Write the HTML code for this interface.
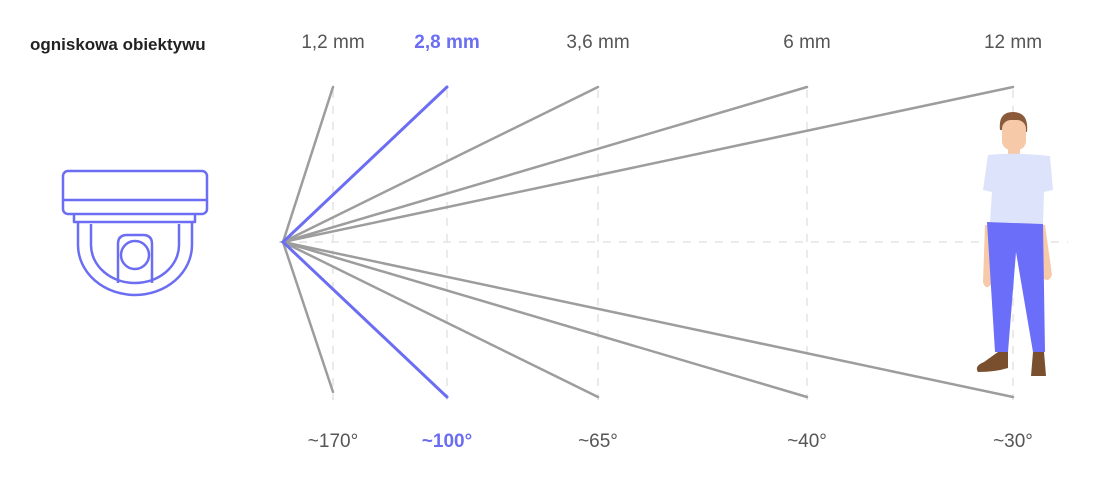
<!DOCTYPE html>
<html><head><meta charset="utf-8"><style>
html,body{margin:0;padding:0;background:#fff;}
svg{display:block;font-family:"Liberation Sans",sans-serif;}
</style></head><body>
<svg width="1100" height="489" viewBox="0 0 1100 489">
<g stroke="#e4e4e4" stroke-width="1.5" stroke-dasharray="8,8" fill="none">
<line x1="283" y1="242" x2="1068" y2="242"/>
<line x1="333" y1="90" x2="333" y2="400"/>
<line x1="447" y1="90" x2="447" y2="400"/>
<line x1="598" y1="90" x2="598" y2="400"/>
<line x1="807" y1="90" x2="807" y2="400"/>
<line x1="1013" y1="90" x2="1013" y2="400"/>
</g>
<g stroke="#9d9d9d" stroke-width="2.5" stroke-linecap="round" fill="none">
<path d="M333 87 L283 242 L333 392"/>
<path d="M598 87 L283 242 L598 397"/>
<path d="M807 87 L283 242 L807 397"/>
<path d="M1013 87 L283 242 L1013 397"/>
</g>
<path d="M447 87 L283 242 L447 397" stroke="#6b6ef2" stroke-width="3" stroke-linecap="round" fill="none"/>
<g fill="none" stroke="#6b6ef2" stroke-width="2.5" stroke-linejoin="round">
<rect x="63" y="171" width="144" height="43" rx="5"/>
<line x1="63" y1="200" x2="207" y2="200"/>
<path d="M74 214 V222 H195 V214"/>
<path d="M78 222 V245 A57 50 0 0 0 192 245 V222"/>
<path d="M91 224 V245 A44 38 0 0 0 179 245 V224"/>
<path d="M118 283 V244 Q118 235 127 235 H143 Q152 235 152 244 V283"/>
<circle cx="135" cy="255" r="14"/>
</g>
<g>
<path d="M1000 130 Q998 112 1013 112 Q1029 112 1027 132 Z" fill="#8b5a3a"/>
<rect x="1002" y="120" width="24" height="30" rx="9" fill="#f6c9a9"/>
<rect x="1008" y="145" width="12" height="10" fill="#f6c9a9"/>
<path d="M985 225 L983 282 Q986 292 992 283 L995 225 Z" fill="#f6c9a9"/>
<path d="M1045 225 L1052 275 Q1048 285 1040 275 L1040 225 Z" fill="#f6c9a9"/>
<path d="M988 155 Q1013 152 1050 156 L1053 190 L1044 192 L1043 224 L990 222 L992 192 L983 190 Z" fill="#dce3fb"/>
<path d="M987 222 L1043 224 L1045 352 L1033 352 L1016 252 L1008 352 L995 352 Z" fill="#6b6ef9"/>
<path d="M998 352 H1008 V368 Q995 372 978 372 Q974 366 984 362 Z" fill="#7a4f2e"/>
<path d="M1033 352 H1044 L1046 376 H1031 Z" fill="#7a4f2e"/>
</g>
<text x="30" y="50" font-size="17" font-weight="bold" fill="#222">ogniskowa obiektywu</text>
<g font-size="19" fill="#555" text-anchor="middle">
<text x="333" y="48">1,2 mm</text>
<text x="447" y="48" fill="#6b6ef2" font-weight="bold">2,8 mm</text>
<text x="598" y="48">3,6 mm</text>
<text x="807" y="48">6 mm</text>
<text x="1013" y="48">12 mm</text>
<text x="333" y="447">~170°</text>
<text x="447" y="447" fill="#6b6ef2" font-weight="bold">~100°</text>
<text x="598" y="447">~65°</text>
<text x="807" y="447">~40°</text>
<text x="1013" y="447">~30°</text>
</g>
</svg>
</body></html>
